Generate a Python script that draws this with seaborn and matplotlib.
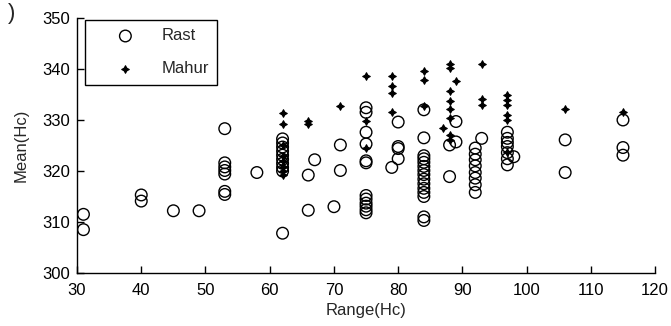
import numpy as np
import pandas as pd
import seaborn as sns
import matplotlib
matplotlib.use("Agg")
import matplotlib.pyplot as plt

# Rast makam: range (Hc) and mean (Hc) of each recording
rast_range = [31, 31, 40, 40, 45, 49,
              53, 53, 53, 53, 53, 53, 53,
              58,
              62, 62, 62, 62, 62, 62, 62, 62, 62, 62,
              66, 66, 67, 70, 71, 71,
              75, 75, 75, 75, 75, 75, 75, 75, 75, 75, 75, 75,
              79, 80, 80, 80, 80,
              84, 84, 84, 84, 84, 84, 84, 84, 84, 84, 84, 84, 84, 84, 84,
              88, 88, 89, 89,
              92, 92, 92, 92, 92, 92, 92, 92, 93,
              97, 97, 97, 97, 97, 97, 97, 98,
              106, 106, 115, 115, 115]
rast_mean = [311.5, 308.5, 315.3, 314.1, 312.2, 312.2,
             328.3, 321.6, 320.8, 320.1, 319.4, 316.0, 315.4,
             319.7,
             326.3, 325.5, 324.7, 323.9, 323.1, 322.3, 321.5, 320.7, 320.0, 307.8,
             319.2, 312.3, 322.2, 313.0, 325.1, 320.1,
             332.4, 331.5, 327.6, 325.3, 322.0, 321.6, 315.2, 314.5, 313.7, 313.1, 312.4, 311.8,
             320.7, 329.6, 324.8, 324.4, 322.4,
             332.0, 326.5, 323.0, 322.4, 321.7, 320.9, 320.1, 319.3, 318.4, 317.5, 316.6, 315.8, 315.0, 311.0, 310.3,
             325.1, 318.9, 329.7, 325.7,
             324.5, 323.3, 322.2, 321.0, 319.7, 318.6, 317.3, 315.8, 326.4,
             327.6, 326.4, 325.6, 324.8, 323.6, 322.4, 321.2, 322.8,
             326.1, 319.7, 330.0, 324.6, 323.1]

# Mahur makam
mahur_range = [62, 62, 62, 62, 62, 62, 62, 62,
               66, 66, 71,
               75, 75, 75,
               79, 79, 79, 79,
               84, 84, 84,
               87, 88, 88, 88, 88, 88, 88, 88, 88, 89,
               93, 93, 93,
               97, 97, 97, 97, 97, 97,
               106, 115]
mahur_mean = [331.3, 329.2, 325.0, 323.0, 322.0, 320.8, 320.0, 319.3,
              329.9, 329.2, 332.8,
              338.6, 329.8, 324.5,
              338.7, 336.6, 335.2, 331.6,
              339.6, 337.8, 332.7,
              328.4, 340.9, 340.2, 335.6, 333.8, 332.1, 330.3, 327.0, 326.1, 337.7,
              340.9, 334.2, 332.9,
              334.9, 333.9, 332.9, 331.0, 330.0, 323.8,
              332.2, 331.6]

x_ticks = [30, 40, 50, 60, 70, 80, 90, 100, 110, 120]
y_ticks = [300, 310, 320, 330, 340, 350]

rast = pd.DataFrame({"Range(Hc)": rast_range, "Mean(Hc)": rast_mean})
mahur = pd.DataFrame({"Range(Hc)": mahur_range, "Mean(Hc)": mahur_mean})

sns.set_style("ticks")
plt.rcParams["font.family"] = ["Liberation Sans", "DejaVu Sans"]

fig = plt.figure(figsize=(6.71, 3.26), dpi=100)
ax = fig.add_axes([0.1148, 0.1626, 0.8615, 0.7822])

sns.scatterplot(data=rast, x="Range(Hc)", y="Mean(Hc)", ax=ax,
                marker="o", s=70, facecolor="none", edgecolor="black",
                linewidth=1.0, label="Rast")
sns.scatterplot(data=mahur, x="Range(Hc)", y="Mean(Hc)", ax=ax,
                marker=(4, 1, 0), s=30, color="black", edgecolor="black",
                linewidth=0.8, label="Mahur")

ax.set_xlim(30, 120)
ax.set_ylim(300, 350)
ax.set_xticks(x_ticks)
ax.set_yticks(y_ticks)
ax.tick_params(direction="in", length=5, width=1, labelsize=12, colors="black")
ax.tick_params(axis="x", pad=7)
ax.tick_params(axis="y", pad=5)
for s in ("top", "right"):
    ax.spines[s].set_visible(False)
for s in ("left", "bottom"):
    ax.spines[s].set_linewidth(1.0)
    ax.spines[s].set_color("black")
ax.set_xlabel("Range(Hc)", fontsize=12, labelpad=4)
ax.set_ylabel("Mean(Hc)", fontsize=12, labelpad=10)

leg = ax.legend(loc="upper left", bbox_to_anchor=(0.013, 0.992), frameon=True,
                fancybox=False, edgecolor="black", fontsize=12,
                handlelength=3.9, handletextpad=0.2, borderpad=0.5,
                labelspacing=1.08, borderaxespad=0)
leg.get_frame().set_linewidth(1.0)
leg.get_frame().set_alpha(1)

fig.text(0.012, 0.99, ")", fontsize=16, ha="left", va="top")

fig.savefig("out.png", dpi=100)
